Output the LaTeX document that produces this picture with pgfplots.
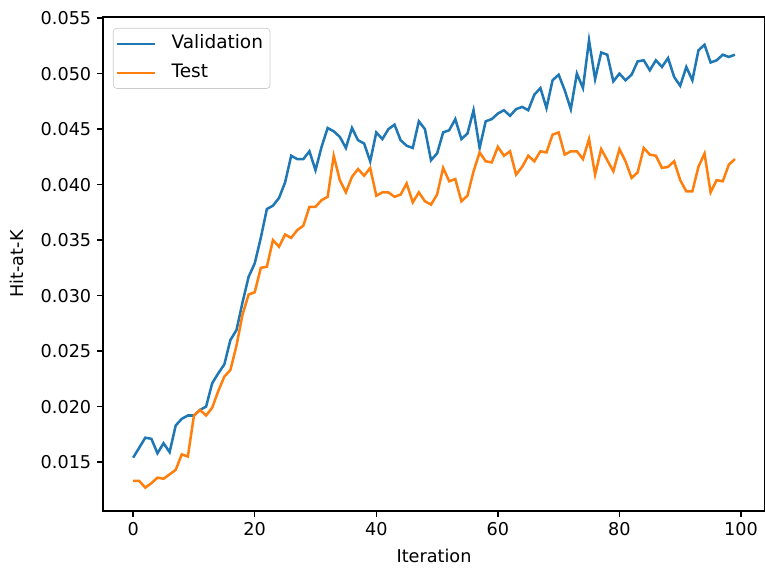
\documentclass[border=0pt]{standalone}
\usepackage{fontspec}
\setmainfont{DejaVu Sans}
\usepackage{pgfplots}
\usepackage{pgfplotstable}
\pgfplotsset{compat=1.18}
\definecolor{tabblue}{HTML}{1F77B4}
\definecolor{taborange}{HTML}{FF7F0E}

\pgfplotstableread{
it val test
0 0.0154 0.0133
1 0.0163 0.0133
2 0.0172 0.0127
3 0.0171 0.0131
4 0.0158 0.0136
5 0.0167 0.0135
6 0.0159 0.0139
7 0.0183 0.0143
8 0.0189 0.0157
9 0.0192 0.0155
10 0.0192 0.0192
11 0.0197 0.0197
12 0.0200 0.0192
13 0.0221 0.0199
14 0.0230 0.0214
15 0.0238 0.0227
16 0.0260 0.0233
17 0.0269 0.0255
18 0.0294 0.0283
19 0.0317 0.0301
20 0.0329 0.0303
21 0.0352 0.0325
22 0.0378 0.0326
23 0.0381 0.0350
24 0.0388 0.0344
25 0.0402 0.0355
26 0.0426 0.0352
27 0.0423 0.0359
28 0.0423 0.0363
29 0.0430 0.0380
30 0.0413 0.0380
31 0.0434 0.0386
32 0.0451 0.0389
33 0.0448 0.0426
34 0.0443 0.0404
35 0.0433 0.0393
36 0.0451 0.0407
37 0.0440 0.0414
38 0.0437 0.0408
39 0.0421 0.0415
40 0.0447 0.0390
41 0.0441 0.0393
42 0.0450 0.0393
43 0.0454 0.0389
44 0.0440 0.0391
45 0.0435 0.0401
46 0.0433 0.0384
47 0.0457 0.0393
48 0.0450 0.0385
49 0.0422 0.0382
50 0.0428 0.0391
51 0.0447 0.0415
52 0.0449 0.0403
53 0.0459 0.0405
54 0.0441 0.0385
55 0.0446 0.0390
56 0.0467 0.0412
57 0.0433 0.0429
58 0.0457 0.0421
59 0.0459 0.0420
60 0.0464 0.0434
61 0.0467 0.0426
62 0.0462 0.0430
63 0.0468 0.0409
64 0.0470 0.0416
65 0.0467 0.0426
66 0.0481 0.0421
67 0.0487 0.0430
68 0.0469 0.0429
69 0.0494 0.0445
70 0.0499 0.0447
71 0.0485 0.0427
72 0.0468 0.0430
73 0.0500 0.0430
74 0.0487 0.0423
75 0.0530 0.0441
76 0.0495 0.0409
77 0.0519 0.0432
78 0.0517 0.0422
79 0.0493 0.0412
80 0.0500 0.0432
81 0.0494 0.0421
82 0.0499 0.0406
83 0.0511 0.0411
84 0.0512 0.0433
85 0.0503 0.0427
86 0.0512 0.0426
87 0.0506 0.0415
88 0.0514 0.0416
89 0.0497 0.0421
90 0.0489 0.0404
91 0.0506 0.0394
92 0.0494 0.0394
93 0.0521 0.0416
94 0.0526 0.0428
95 0.0510 0.0393
96 0.0512 0.0404
97 0.0517 0.0403
98 0.0515 0.0418
99 0.0517 0.0423
}\runs

\begin{document}
\begin{tikzpicture}
\useasboundingbox (-61.3pt,-34.5pt) rectangle (393.7pt,303.9pt);
\begin{axis}[
  at={(0pt,0pt)}, anchor=south west,
  scale only axis, width=393.7pt, height=293.8pt,
  xmin=-4.95, xmax=103.95, ymin=0.0106, ymax=0.0551,
  xtick={0,20,40,60,80,100},
  ytick={0.015,0.020,0.025,0.030,0.035,0.040,0.045,0.050,0.055},
  scaled y ticks=false,
  yticklabel style={/pgf/number format/.cd, fixed, fixed zerofill, precision=3},
  /pgf/number format/assume math mode=true,
  tick label style={font=\fontsize{10.5}{12.5}\selectfont},
  tick align=outside, major tick length=3.5pt,
  tick style={black, line width=0.8pt},
  axis line style={line width=0.8pt},
  xtick pos=bottom, ytick pos=left,
  every axis x label/.style={at={(axis description cs:0.5,0)}, anchor=center, yshift=-26.8pt},
  every axis y label/.style={at={(axis description cs:0,0.5)}, anchor=center, rotate=90, yshift=51pt},
  label style={font=\fontsize{10.5}{12.5}\selectfont},
  xlabel={Iteration}, ylabel={Hit-at-K},
  legend cell align=left,
  legend style={at={(axis description cs:0,1)}, anchor=north west,
    xshift=5.9pt, yshift=-6.5pt, draw=black!20, rounded corners=2pt,
    font=\fontsize{11}{13}\selectfont, row sep=2.8pt,
    inner xsep=1.2pt, inner ysep=2pt,
    nodes={inner xsep=3pt, inner ysep=2pt, text height=8pt, text depth=2.5pt},
    /tikz/every odd column/.append style={column sep=6.4pt}},
  legend image code/.code={\draw[#1, line width=1.5pt] (0pt,0pt) -- (22.6pt,0pt);},
]
\addplot[tabblue, line width=1.5pt] table[x=it, y=val] {\runs};
\addlegendentry{Validation}
\addplot[taborange, line width=1.5pt] table[x=it, y=test] {\runs};
\addlegendentry{Test}
\end{axis}
\end{tikzpicture}
\end{document}
